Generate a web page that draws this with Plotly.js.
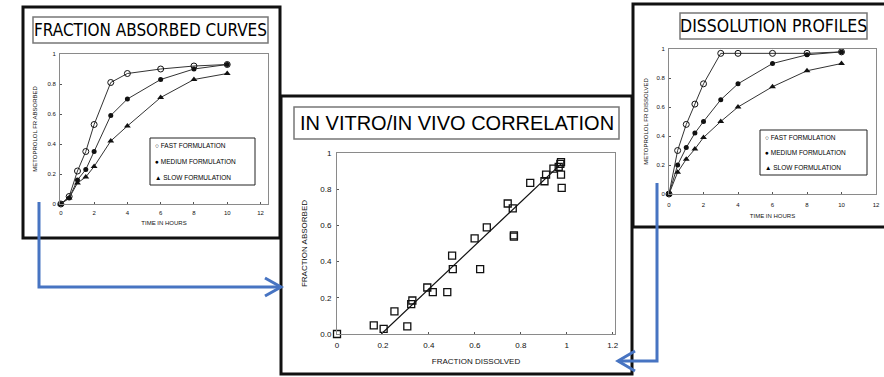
<!DOCTYPE html>
<html>
<head>
<meta charset="utf-8">
<script src="https://cdn.plot.ly/plotly-3.0.1.min.js"></script>
<style>
  html, body { margin: 0; padding: 0; background: #fff; }
  #chart { width: 884px; height: 377px; }
</style>
</head>
<body>
<div id="chart"></div>
<script>
// ---- data ----
const hours = [0, 0.5, 1, 1.5, 2, 3, 4, 6, 8, 10];
const seriesNames = ['FAST FORMULATION', 'MEDIUM FORMULATION', 'SLOW FORMULATION'];

// fraction of metoprolol absorbed (in vivo)
const absorbedFast   = [0, 0.05, 0.22, 0.35, 0.53, 0.81, 0.87, 0.90, 0.92, 0.93];
const absorbedMedium = [0, 0.04, 0.16, 0.23, 0.35, 0.59, 0.70, 0.83, 0.90, 0.93];
const absorbedSlow   = [0, 0.04, 0.14, 0.18, 0.25, 0.42, 0.52, 0.71, 0.83, 0.87];

// fraction of metoprolol dissolved (in vitro)
const dissolvedFast   = [0, 0.30, 0.48, 0.62, 0.76, 0.97, 0.97, 0.97, 0.97, 0.98];
const dissolvedMedium = [0, 0.20, 0.32, 0.42, 0.50, 0.65, 0.76, 0.90, 0.96, 0.98];
const dissolvedSlow   = [0, 0.15, 0.24, 0.31, 0.39, 0.50, 0.60, 0.74, 0.85, 0.90];

// correlation: fraction dissolved vs fraction absorbed
const corrDissolved = [0, 0.16, 0.203, 0.25, 0.306, 0.323, 0.328, 0.393, 0.417, 0.48,
                       0.501, 0.504, 0.599, 0.623, 0.652, 0.743, 0.765, 0.77, 0.77, 0.841,
                       0.903, 0.91, 0.942, 0.965, 0.975, 0.972, 0.975, 0.978];
const corrAbsorbed  = [0, 0.048, 0.028, 0.125, 0.042, 0.165, 0.185, 0.257, 0.231, 0.231,
                       0.433, 0.358, 0.528, 0.358, 0.589, 0.721, 0.694, 0.538, 0.545, 0.835,
                       0.844, 0.881, 0.914, 0.923, 0.95, 0.94, 0.881, 0.807];
const fitDissolved = [0.193, 0.975];
const fitAbsorbed  = [0, 0.94];

const timeTicks = [0, 2, 4, 6, 8, 10, 12];
const fracTicks = [0, 0.2, 0.4, 0.6, 0.8, 1];
const fracTickText = ['0', '0.2', '0.4', '0.6', '0.8', '1'];
const corrYTickText = ['0.0', '0.2', '0.4', '0.6', '0.8', '1'];
const corrXTicks = [0, 0.2, 0.4, 0.6, 0.8, 1, 1.2];

// ---- page geometry (pixels -> paper fractions) ----
const W = 884, H = 377;
const px = v => v / W;
const py = v => 1 - v / H;

const BASE = 'Liberation Sans, Arial, sans-serif';
const NARROW = 'Liberation Sans Narrow, Arial Narrow, DejaVu Sans Condensed, Liberation Sans, sans-serif';
const INK = '#111';
const FRAME = '#8a8a8a';
const ARROW = '#4774c2';

const markerStyles = [
  { symbol: 'circle-open', size: 6, color: INK, line: { width: 1, color: INK } },
  { symbol: 'circle', size: 5, color: INK },
  { symbol: 'triangle-up', size: 6, color: INK }
];
const legendGlyphs = ['○', '●', '▲'];

function curves(ys, xa, ya) {
  return ys.map((y, i) => ({
    x: hours, y: y, xaxis: xa, yaxis: ya,
    type: 'scatter', mode: 'lines+markers',
    line: { color: '#333', width: 1 },
    marker: markerStyles[i],
    name: seriesNames[i], showlegend: false, cliponaxis: false
  }));
}

const traces = [
  ...curves([absorbedFast, absorbedMedium, absorbedSlow], 'x', 'y'),
  ...curves([dissolvedFast, dissolvedMedium, dissolvedSlow], 'x3', 'y3'),
  {
    x: fitDissolved, y: fitAbsorbed, xaxis: 'x2', yaxis: 'y2',
    type: 'scatter', mode: 'lines', line: { color: INK, width: 1.2 },
    showlegend: false
  },
  {
    x: corrDissolved, y: corrAbsorbed, xaxis: 'x2', yaxis: 'y2',
    type: 'scatter', mode: 'markers', cliponaxis: false,
    marker: { symbol: 'square-open', size: 7, color: INK, line: { width: 1.3, color: INK } },
    showlegend: false
  }
];

function axis(o) {
  const a = {
    domain: o.domain, range: o.range, anchor: o.anchor,
    tickvals: o.tickvals, ticks: 'inside', ticklen: 2, tickcolor: '#555',
    ticklabelstandoff: o.labelGap,
    showline: true, mirror: true, linecolor: FRAME, linewidth: 1,
    showgrid: false, zeroline: false, fixedrange: true,
    tickfont: { family: BASE, size: o.size, color: INK },
    title: { text: o.title, font: { family: BASE, size: o.size, color: INK }, standoff: o.standoff }
  };
  if (o.ticktext) a.ticktext = o.ticktext;
  return a;
}

const layout = {
  width: W, height: H,
  margin: { l: 0, r: 0, t: 0, b: 0 },
  paper_bgcolor: '#fff', plot_bgcolor: '#fff',
  showlegend: false,
  // left: absorption curves
  xaxis: axis({ domain: [px(60), px(268)], range: [-0.05, 12.45], tickvals: timeTicks, size: 6,
    title: 'TIME IN HOURS', standoff: 5, labelGap: 3, anchor: 'y' }),
  yaxis: axis({ domain: [py(204), py(54)], range: [0, 1], tickvals: fracTicks, ticktext: fracTickText, size: 6,
    title: 'METOPROLOL FR ABSORBED', standoff: 9, labelGap: 2, anchor: 'x' }),
  // middle: correlation
  xaxis2: axis({ domain: [px(337), px(615)], range: [0, 1.21], tickvals: corrXTicks, size: 8,
    title: 'FRACTION DISSOLVED', standoff: 9, labelGap: 3, anchor: 'y2' }),
  yaxis2: axis({ domain: [py(334), py(153)], range: [0, 1], tickvals: fracTicks, ticktext: corrYTickText, size: 8,
    title: 'FRACTION ABSORBED', standoff: 11, labelGap: 3, anchor: 'x2' }),
  // right: dissolution profiles
  xaxis3: axis({ domain: [px(669), px(876)], range: [0, 12], tickvals: timeTicks, size: 6,
    title: 'TIME IN HOURS', standoff: 6, labelGap: 5, anchor: 'y3' }),
  yaxis3: axis({ domain: [py(194), py(49)], range: [0, 1], tickvals: fracTicks, ticktext: fracTickText, size: 6,
    title: 'METOPROLOL FR DISSOLVED', standoff: 7, labelGap: 2, anchor: 'x3' }),
  shapes: [],
  annotations: []
};

function rect(x0, y0, x1, y1, color, width) {
  layout.shapes.push({
    type: 'rect', xref: 'paper', yref: 'paper',
    x0: px(x0), x1: px(x1), y0: py(y1), y1: py(y0),
    line: { color: color, width: width }, fillcolor: 'rgba(0,0,0,0)'
  });
}
function label(text, x, y, size, opts) {
  layout.annotations.push(Object.assign({
    text: text, xref: 'paper', yref: 'paper', x: px(x), y: py(y),
    xanchor: 'center', yanchor: 'middle',
    showarrow: false, font: { family: BASE, size: size, color: '#000' }
  }, opts || {}));
}

// panel frames
rect(23, 7, 280, 238, INK, 3);
rect(281, 96, 632, 374, INK, 3);
rect(633, 4, 890, 227, INK, 3);

// panel titles in their boxes
rect(33, 17, 268, 43, '#777', 1.5);
label('FRACTION ABSORBED CURVES', 150.5, 30, 17, { font: { family: NARROW, size: 17, color: '#000' } });
rect(294, 107, 619, 139, '#777', 1.5);
label('IN VITRO/IN VIVO CORRELATION', 456.5, 123, 20);
rect(680, 13, 867, 39, '#777', 1.5);
label('DISSOLUTION PROFILES', 773.5, 26, 17.5, { font: { family: NARROW, size: 17.5, color: '#000' } });

// legends
function legendBox(x0, y0, x1, y1) {
  rect(x0, y0, x1, y1, '#222', 1);
  const step = (y1 - y0) / 3;
  seriesNames.forEach((n, i) => {
    label(legendGlyphs[i] + ' ' + n, x0 + 3, y0 + step * (i + 0.5), 6.5, { xanchor: 'left' });
  });
}
legendBox(150, 138, 255, 185);
legendBox(760, 130, 867, 175);

// connecting arrows
layout.shapes.push(
  { type: 'path', xref: 'paper', yref: 'paper', line: { color: ARROW, width: 3 },
    path: `M ${px(39)} ${py(202)} L ${px(39)} ${py(287)} L ${px(281)} ${py(287)}` },
  { type: 'path', xref: 'paper', yref: 'paper', line: { color: ARROW, width: 3 },
    path: `M ${px(265)} ${py(278)} L ${px(281)} ${py(287)} L ${px(265)} ${py(296)}` },
  { type: 'path', xref: 'paper', yref: 'paper', line: { color: ARROW, width: 3 },
    path: `M ${px(657)} ${py(183)} L ${px(657)} ${py(361)} L ${px(618)} ${py(361)}` },
  { type: 'path', xref: 'paper', yref: 'paper', line: { color: ARROW, width: 3 },
    path: `M ${px(635)} ${py(351)} L ${px(618)} ${py(361)} L ${px(635)} ${py(371)}` }
);

Plotly.newPlot('chart', traces, layout, { displayModeBar: false, staticPlot: true });
</script>
</body>
</html>
